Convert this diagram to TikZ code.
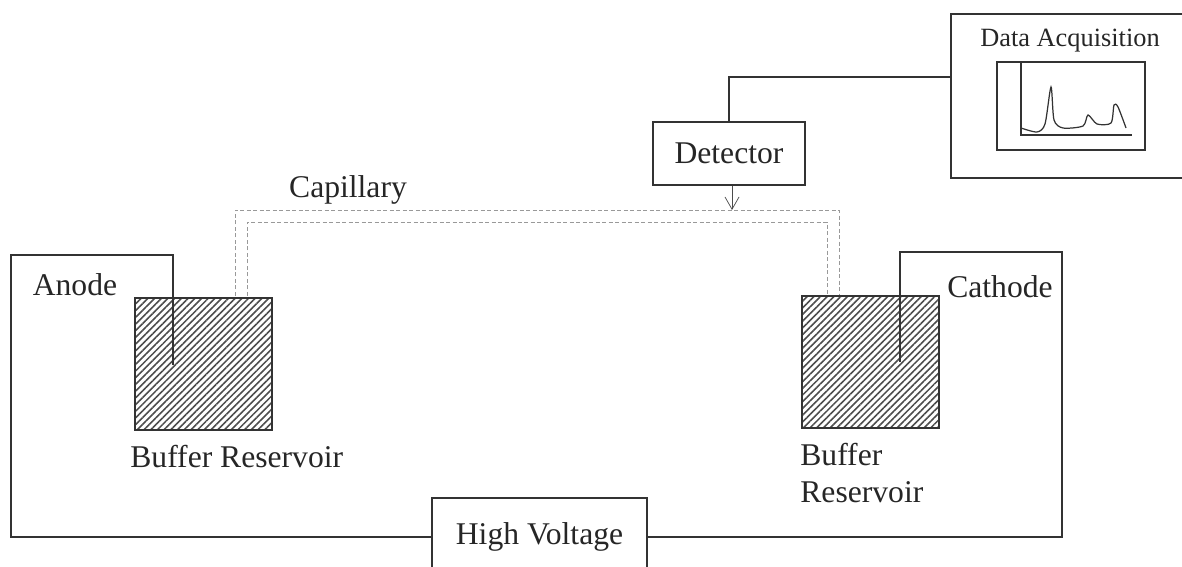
\documentclass[tikz,border=0pt]{standalone}
\usepackage{fontspec}
\setmainfont{Liberation Serif}
\usetikzlibrary{positioning,arrows.meta,patterns.meta}
\begin{document}
\begin{tikzpicture}[
  x=0.02cm, y=-0.02cm,
  wire/.style={draw=black!80, line width=1pt},
  box/.style={draw=black!80, line width=1pt, fill=white, inner sep=0pt, text=black!85, font=\fontsize{18pt}{21pt}\selectfont},
  label/.style={inner sep=0pt, font=\fontsize{18pt}{21pt}\selectfont, text=black!85, align=left},
  tube/.style={draw=black!40, line width=0.55pt, dash pattern=on 2.5pt off 1.2pt},
  reservoir/.style={draw=black!80, line width=1.1pt, minimum width=2.74cm, minimum height=2.64cm, inner sep=0pt,
                    pattern={Lines[angle=45, distance=2.7pt, line width=0.9pt]}, pattern color=black!70}
]
\useasboundingbox (0,0) rectangle (1182,567);
% capillary
\coordinate (c1) at (235,296);
\coordinate (c2) at (247,296);
\coordinate (c3) at (827,296);
\coordinate (c4) at (839,296);
\draw[tube] (c1) |- (c4 |- 0,210) -- (c4);
\draw[tube] (c2) |- (c3 |- 0,222) -- (c3);
\node[label] (capillary) at (348,190) {Capillary};
% reservoirs
\node[reservoir] (resL) at (203.5,364) {};
\node[reservoir] (resR) at (870.5,362) {};
\node[label, anchor=west] (bufL) at (130,457) {Buffer Reservoir};
\node[label, anchor=north west] (bufR) at (800,443) {Buffer\\[0pt]Reservoir};
% high voltage circuit
\coordinate (elecL) at (173,365);
\coordinate (elecR) at (900,362);
\node[box, minimum width=4.3cm, minimum height=1.56cm] (hv) at (539.5,537) {\raisebox{4pt}{High Voltage}};
\draw[wire] (elecL) |- (11,255) |- (hv.west);
\draw[wire] (elecR) |- (1062,252) |- (hv.east);
\node[label] (anode) at (75,285) {Anode};
\node[label] (cathode) at (1000,287) {Cathode};
% detector and data acquisition
\node[box, minimum width=3.04cm, minimum height=1.26cm] (det) at (729,153.5) {Detector};
\node[draw=black!80, line width=1pt, minimum width=10cm, minimum height=3.28cm, inner sep=0pt] (daq) at (1201,96) {};
\coordinate (daqport) at (951,77);
\draw[wire] (daqport) -| (det.north);
\node[label, font=\fontsize{15pt}{18pt}\selectfont] (daqlabel) at (1070,41) {Data Acquisition};
\node[draw=black!80, line width=0.8pt, minimum width=2.96cm, minimum height=1.76cm, inner sep=0pt] (screen) at (1071,106) {};
\draw[line width=0.8pt, black!80] (1021,62) |- (1132,135);
\draw[line width=0.7pt, black!80] plot[smooth, tension=0.45] coordinates {(1021,128) (1037,132) (1045,124) (1051,87) (1054,120) (1063,128) (1083,126) (1088,115) (1097,124) (1111,123) (1114,105) (1118,107) (1126,128)};
% arrow to capillary
\coordinate (window) at (732,210);
\draw[-{Straight Barb[length=7pt,width=8pt]}, black!70, line width=0.4pt] (det.south -| window) -- (window);
\end{tikzpicture}
\end{document}
